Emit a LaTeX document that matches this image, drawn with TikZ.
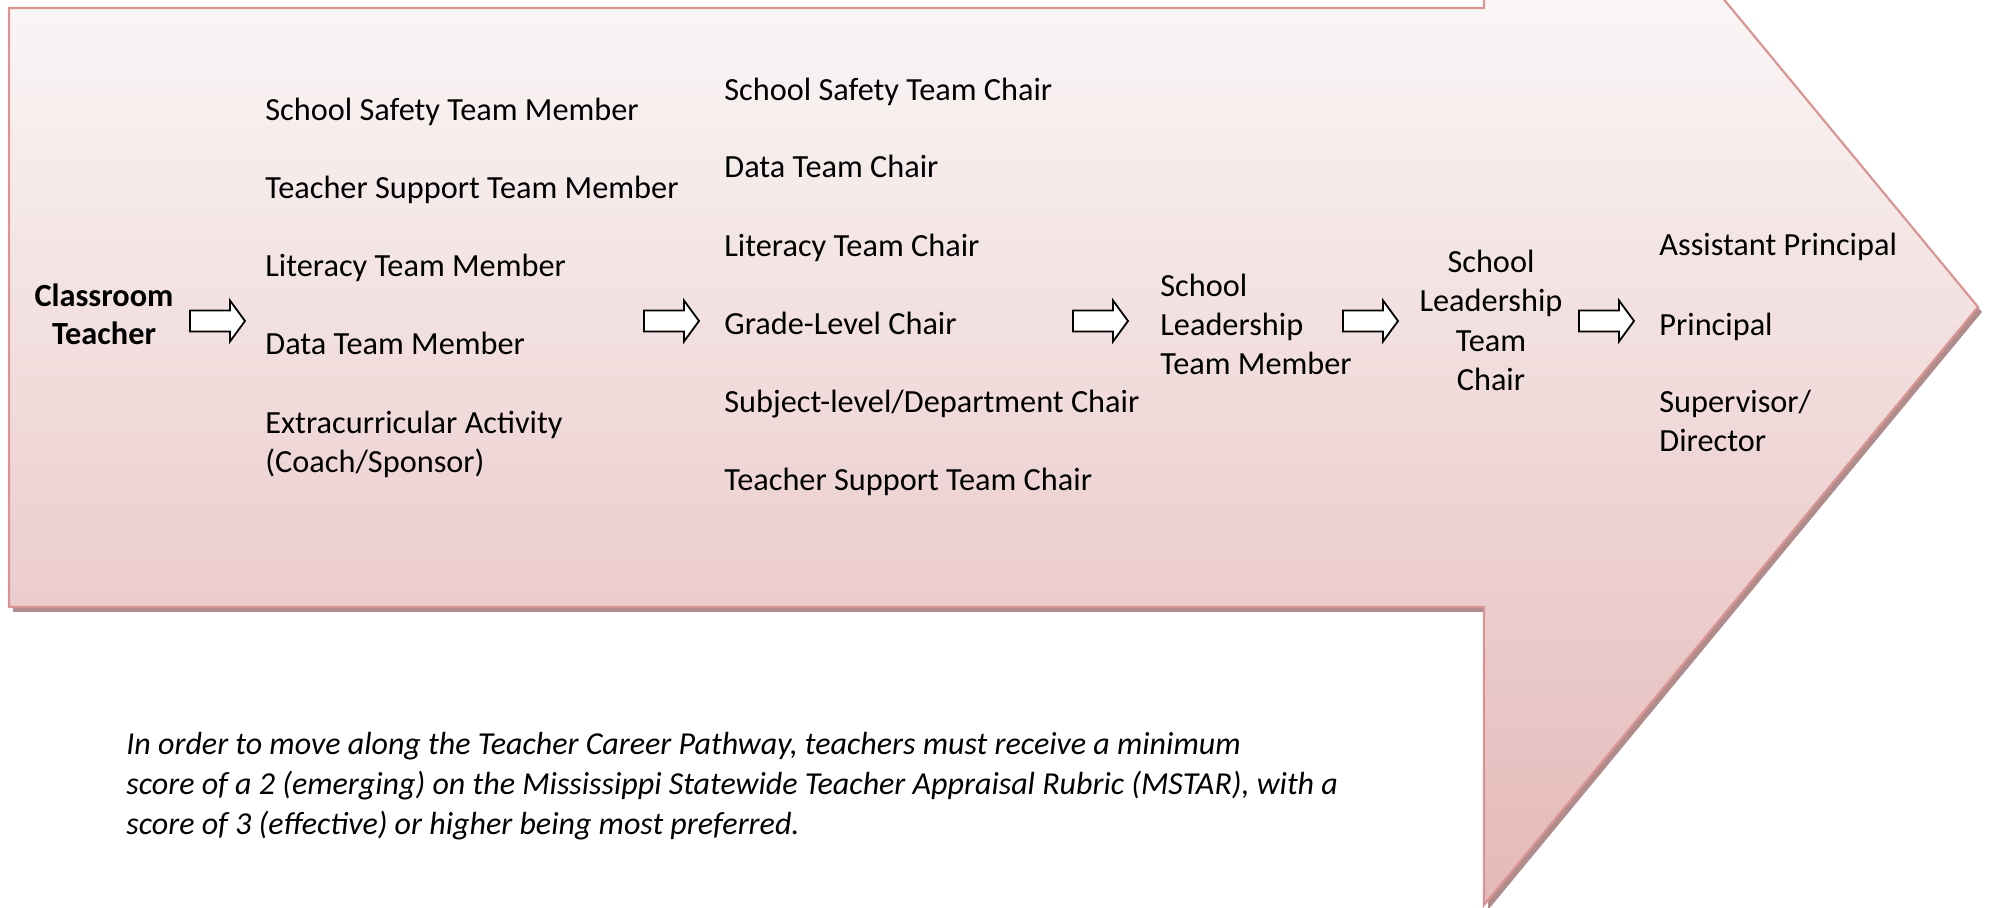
\documentclass[tikz,border=0pt]{standalone}
\usepackage{fontspec}
\setmainfont{Carlito}
\definecolor{bordc}{HTML}{D99594}
\definecolor{shadc}{HTML}{B08C8C}
\definecolor{topc}{HTML}{FAF6F6}
\definecolor{botc}{HTML}{E5B8B8}
\begin{document}
\begin{tikzpicture}[x=0.5pt,y=-0.5pt,
  txt/.style={font=\fontsize{16.15}{19.5}\selectfont, inner sep=0pt, align=left, anchor=base west},
  ctxt/.style={font=\fontsize{16.15}{19.5}\selectfont, inner sep=0pt, align=center, anchor=base},
  foot/.style={font=\fontsize{16}{20}\selectfont\itshape, inner sep=0pt, align=left, anchor=base west},
  blockarrow/.pic={\draw[fill=white, line width=0.9pt, line join=miter] (-27,-10.5) -- (13,-10.5) -- (13,-20.5) -- (28,0) -- (13,20.5) -- (13,10.5) -- (-27,10.5) -- cycle;}]
\useasboundingbox (0,0) rectangle (1992,908);
\clip (0,0) rectangle (1992,908);
% shadow
\fill[shadc] ([shift={(4,5)}]9,8) -- ++(1475,0) -- ++(0,-299) -- ++(494,598) -- ++(-494,598) -- ++(0,-298) -- ++(-1475,0) -- cycle;
% big arrow
\begin{scope}
\clip (9,8) -- (1484,8) -- (1484,-291) -- (1978,307) -- (1484,905) -- (1484,607) -- (9,607) -- cycle;
\shade[top color=topc, bottom color=botc] (0,0) rectangle (1992,908);
\end{scope}
\draw[bordc, line width=1.1pt, line join=miter] (9,8) -- (1484,8) -- (1484,-291) -- (1978,307) -- (1484,905) -- (1484,607) -- (9,607) -- cycle;

% column 1 (multi-line nodes are placed by the baseline of their last line)
\node[ctxt, font=\fontsize{16.15}{19}\selectfont\bfseries] (ct) at (104,345) {Classroom\\Teacher};
% column 2
\node[txt] (m1) at (265,121) {School Safety Team Member};
\node[txt] (m2) at (265,199) {Teacher Support Team Member};
\node[txt] (m3) at (265,277) {Literacy Team Member};
\node[txt] (m4) at (265,355) {Data Team Member};
\node[txt] (m5) at (265,473) {Extracurricular Activity\\(Coach/Sponsor)};
% column 3
\node[txt] (c1) at (724,101) {School Safety Team Chair};
\node[txt] (c2) at (724,178) {Data Team Chair};
\node[txt] (c3) at (724,257) {Literacy Team Chair};
\node[txt] (c4) at (724,335) {Grade-Level Chair};
\node[txt] (c5) at (724,413) {Subject-level/Department Chair};
\node[txt] (c6) at (724,491) {Teacher Support Team Chair};
% column 4
\node[txt] (sltm) at (1160,375) {School\\Leadership\\Team Member};
% column 5
\node[ctxt, font=\fontsize{16.15}{19.8}\selectfont] (sltc) at (1491,391) {School\\Leadership\\Team\\Chair};
% column 6
\node[txt] (ap) at (1659,256) {Assistant Principal};
\node[txt] (pr) at (1659,336) {Principal};
\node[txt] (sd) at (1659,452) {Supervisor/\\Director};
% block arrows
\pic (a1) at (217,321) {blockarrow};
\pic (a2) at (671,321) {blockarrow};
\pic (a3) at (1100,321) {blockarrow};
\pic (a4) at (1370,321) {blockarrow};
\pic (a5) at (1606,321) {blockarrow};
% footer
\node[foot] (note) at (126,834) {In order to move along the Teacher Career Pathway, teachers must receive a minimum\\score of a 2 (emerging) on the Mississippi Statewide Teacher Appraisal Rubric (MSTAR), with a\\score of 3 (effective) or higher being most preferred.};
\end{tikzpicture}
\end{document}
